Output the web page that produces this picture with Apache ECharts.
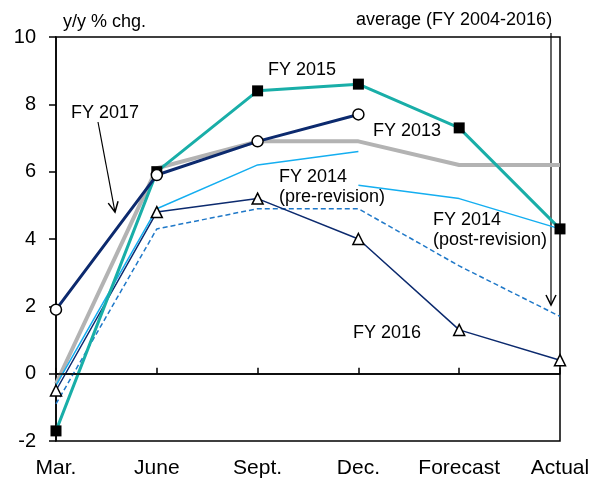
<!DOCTYPE html>
<html>
<head>
<meta charset="utf-8">
<script src="https://cdn.jsdelivr.net/npm/echarts@6/dist/echarts.min.js"></script>
<style>
  html, body { margin: 0; padding: 0; background: #fff; }
  #chart { width: 600px; height: 479px; }
</style>
</head>
<body>
<div id="chart"></div>
<script>
// Data
const categories = ["Mar.", "June", "Sept.", "Dec.", "Forecast", "Actual"];
const fy2013 = [-0.3, 6.1, 6.9, 6.9, 6.2, 6.2];
const average = [-0.9, 4.3, 4.9, 4.9, 3.2, 1.7];
const fy2014Pre = [-0.35, 4.9, 6.2, 6.6, "-", "-"];
const fy2014Post = ["-", "-", "-", 5.6, 5.2, 4.3];
const fy2016 = [-0.5, 4.8, 5.2, 4.0, 1.3, 0.4];
const fy2015 = [-1.7, 6.0, 8.4, 8.6, 7.3, 4.3];
const fy2017 = [1.9, 5.9, 6.9, 7.7, "-", "-"];
const yMin = -2, yMax = 10, yStep = 2;

const FONT = "'Liberation Sans', Arial, sans-serif";
const chart = echarts.init(document.getElementById("chart"), null, { renderer: "canvas" });

// small helper: open arrow head at (x2,y2)
function arrow(x1, y1, x2, y2) {
  const dx = x2 - x1, dy = y2 - y1;
  const len = Math.sqrt(dx * dx + dy * dy);
  const ux = dx / len, uy = dy / len;
  const bx = x2 - ux * 10, by = y2 - uy * 10;
  const px = -uy * 5, py = ux * 5;
  return [
    { type: "line", shape: { x1: x1, y1: y1, x2: x2, y2: y2 }, style: { stroke: "#000", lineWidth: 1.2 } },
    { type: "polyline", shape: { points: [[bx + px, by + py], [x2, y2], [bx - px, by - py]] }, style: { stroke: "#000", lineWidth: 1.5, fill: null } },
  ];
}

function label(x, y, text) {
  return { type: "text", x: x, y: y, style: { text: text, fontSize: 18, fontFamily: FONT, fill: "#000", align: "left", verticalAlign: "middle" } };
}

const option = {
  animation: false,
  backgroundColor: "#fff",
  grid: { left: 56, right: 40, top: 37, bottom: 38, show: true, borderColor: "#000", borderWidth: 1.5 },
  xAxis: {
    type: "category",
    data: categories,
    boundaryGap: false,
    axisLine: { lineStyle: { color: "#000", width: 1.5 } },
    axisTick: { inside: true, length: 6, interval: 0, lineStyle: { color: "#000", width: 1.5 } },
    axisLabel: { color: "#000", fontSize: 21, fontFamily: FONT, margin: 17, interval: 0 },
    splitLine: { show: false },
  },
  yAxis: {
    type: "value",
    min: yMin,
    max: yMax,
    interval: yStep,
    axisLine: { show: true, lineStyle: { color: "#000", width: 1.5 } },
    axisTick: { show: true, length: 7, lineStyle: { color: "#000", width: 1.5 } },
    axisLabel: { color: "#000", fontSize: 20, fontFamily: FONT, margin: 20 },
    splitLine: { show: false },
  },
  series: [
    {
      name: "FY 2013", type: "line", data: fy2013, symbol: "none",
      lineStyle: { color: "#b3b3b3", width: 4 },
      markLine: {
        silent: true, symbol: "none", label: { show: false },
        lineStyle: { color: "#000", width: 1.5, type: "solid" },
        data: [{ yAxis: 0 }],
      },
    },
    {
      name: "average", type: "line", data: average, symbol: "none",
      lineStyle: { color: "#1f78c8", width: 1.5, type: [5, 3] },
    },
    {
      name: "FY 2014 pre", type: "line", data: fy2014Pre, symbol: "none",
      lineStyle: { color: "#14aef0", width: 1.5 },
    },
    {
      name: "FY 2014 post", type: "line", data: fy2014Post, symbol: "none",
      lineStyle: { color: "#14aef0", width: 1.5 },
    },
    {
      name: "FY 2016", type: "line", data: fy2016, symbol: "triangle", symbolSize: 11,
      lineStyle: { color: "#0c2a6e", width: 1.5 },
      itemStyle: { color: "#fff", borderColor: "#000", borderWidth: 1.5 },
    },
    {
      name: "FY 2015", type: "line", data: fy2015, symbol: "rect", symbolSize: 11,
      lineStyle: { color: "#19aea8", width: 3 },
      itemStyle: { color: "#000", borderColor: "#000", borderWidth: 0 },
    },
    {
      name: "FY 2017", type: "line", data: fy2017, symbol: "circle", symbolSize: 11,
      lineStyle: { color: "#0c2a6e", width: 3 },
      itemStyle: { color: "#fff", borderColor: "#000", borderWidth: 1.5 },
    },
  ],
  graphic: [
    label(63, 22, "y/y % chg."),
    label(356, 20, "average (FY 2004-2016)"),
    label(268, 70, "FY 2015"),
    label(71, 113, "FY 2017"),
    label(373, 131, "FY 2013"),
    label(279, 177, "FY 2014"),
    label(279, 197, "(pre-revision)"),
    label(433, 220, "FY 2014"),
    label(433, 240, "(post-revision)"),
    label(353, 333, "FY 2016"),
    ...arrow(98, 122, 115, 212),
    ...arrow(551, 33, 551, 305),
  ],
};

chart.setOption(option);
</script>
</body>
</html>
